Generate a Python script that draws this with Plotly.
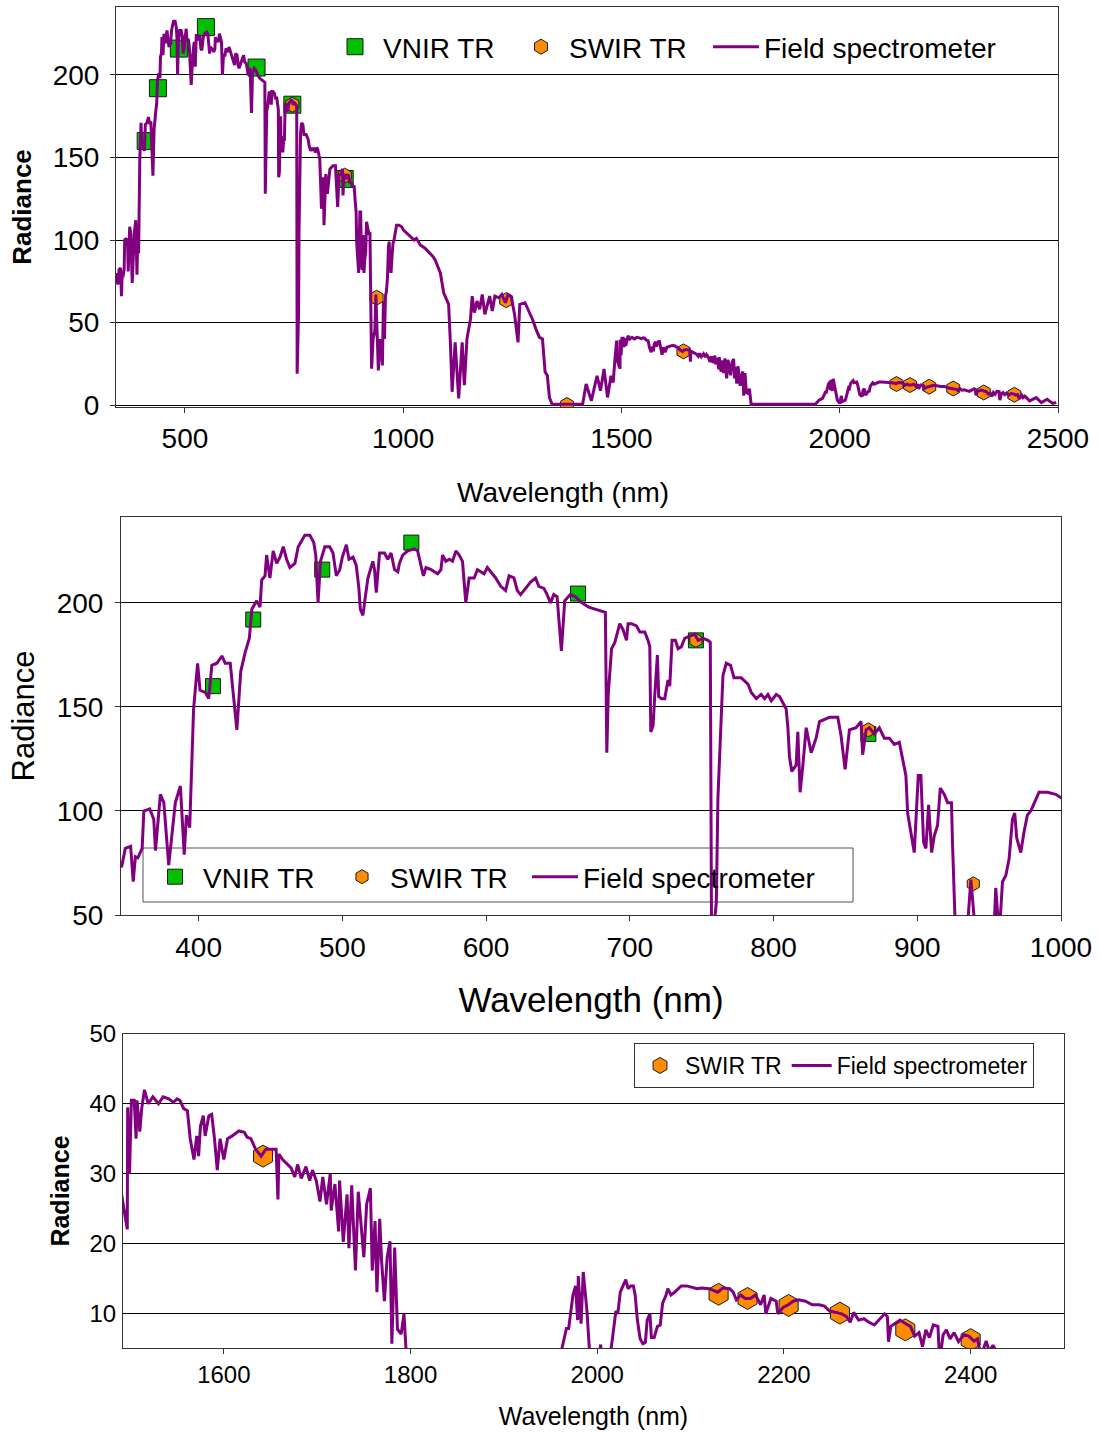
import plotly.graph_objects as go

# ---------------- data ----------------
wavelength = [
    342, 346.4, 349, 352.7, 354.5, 356, 357.7, 360.7, 361.9, 366, 368.8, 370, 373.4, 375.8, 379.2,
    383.8, 387.3, 390, 391.5, 393.8, 396.5, 399.3, 401, 404.6, 407, 409.2, 412.7, 416.2, 418.5,
    422, 426.6, 429.3, 432.3, 435.3, 437, 440.4, 442.7, 443.9, 446.2, 447.3, 449.6, 451.9, 454.3,
    456.6, 458.9, 461.2, 463.5, 467, 469.3, 472.3, 473.9, 477.4, 480.1, 481.5, 483.1, 484.8,
    487.8, 491.2, 493.5, 495.8, 498.2, 500, 502.8, 504.6, 507.4, 509.7, 511.5, 512.5, 514.3,
    516.2, 517.8, 521.2, 522.4, 523.6, 525.9, 529.3, 531.6, 533.9, 536.3, 538.6, 539.7, 542,
    545.5, 550.1, 552.4, 554.7, 556.4, 558.2, 561.7, 566.3, 568.6, 569.7, 572, 574.4, 576.7,
    579, 581.3, 583.6, 585.9, 588.2, 591.7, 594, 598.6, 600.9, 604.4, 606.7, 610.2, 613.6, 616,
    619.4, 621.7, 624, 627.5, 631, 634.4, 636.7, 640.2, 642.5, 644.8, 647.1, 649.4, 652.4,
    654.7, 658.6, 662.1, 666.7, 671.4, 676, 680.6, 683, 684, 685, 687.3, 689.6, 693, 695.4,
    697.7, 698.8, 701.2, 704.6, 707, 710.4, 712.7, 713.9, 714.6, 716.2, 717.4, 719.2, 720.1,
    722, 724.3, 726.6, 727.8, 729.4, 731.7, 733.6, 735.9, 738.2, 741.7, 745.1, 747.5, 750.9,
    754.4, 756, 757, 758.6, 760.2, 761.3, 764.8, 767.1, 770.1, 772.5, 777.5, 782.2, 784.5, 788,
    791.4, 793.8, 796.1, 798.4, 801.9, 804.2, 806.5, 808.8, 810, 811.1, 812.7, 815.7, 816.9,
    818.5, 820.4, 822.7, 826.2, 829.6, 832, 835.4, 838.9, 844.7, 847, 849.8, 852.8, 857.4,
    860.9, 862, 864.4, 866.7, 870.1, 873.6, 877.1, 880.6, 884, 887.5, 889.8, 892.1, 893.3,
    897.9, 900.7, 902.5, 904.4, 906, 907.9, 910, 911.8, 914.1, 916, 918.8, 921.1, 923.8, 924.5,
    927.5, 931, 935, 937.3, 939.6, 943, 947, 950, 952.3, 954.6, 957, 959.3, 961.6, 963.9,
    966.2, 967.8, 969.2, 972, 974.3, 976.6, 979, 981.7, 984.7, 990.5, 996.3, 1000.7, 1016,
    1025, 1030, 1039, 1050, 1062, 1068, 1073, 1085, 1092.7, 1104, 1108, 1112, 1119, 1127, 1135,
    1140, 1146, 1154, 1158, 1163, 1169, 1175, 1181, 1187, 1192, 1198, 1204, 1210, 1219, 1226,
    1234, 1240, 1247, 1255, 1263, 1267, 1279,
    1288, 1296, 1304, 1312, 1319, 1322, 1325, 1330, 1335, 1341, 1370, 1411, 1419, 1431, 1444,
    1452, 1460, 1468, 1476, 1481, 1485, 1489, 1490.5, 1496.6, 1497, 1499, 1501, 1504, 1506,
    1507, 1510, 1512, 1515, 1519, 1524, 1530, 1535, 1541, 1546, 1550, 1553, 1557, 1561, 1564,
    1568, 1571, 1573, 1575, 1578, 1580, 1584, 1587, 1590, 1593, 1596, 1600, 1604, 1609, 1616,
    1622, 1625, 1629, 1634, 1640, 1645, 1652, 1656, 1658, 1659, 1663, 1667, 1672, 1676, 1679,
    1683, 1688, 1692, 1695, 1699, 1703, 1706, 1710, 1714, 1715, 1719, 1723, 1724, 1728, 1732,
    1734, 1737, 1741, 1744, 1748, 1750, 1753, 1757, 1759, 1762, 1764, 1767, 1769, 1772, 1775,
    1778, 1780, 1783, 1786, 1790, 1793, 1797, 1944, 1953, 1960.6, 1965, 1967, 1969.4, 1971.6,
    1974, 1976.8, 1979, 1979.7, 1982.7, 1985, 1989, 1991.5, 1994.5, 2000, 2003.7, 2005.5, 2013,
    2016.6, 2020, 2022, 2024.7, 2027.6, 2030.6, 2033, 2035.8, 2038.7, 2040.6, 2043, 2046, 2049,
    2051.6, 2053.5, 2056.4, 2058, 2061, 2064.5, 2067.5, 2070, 2073.7, 2075.6, 2079, 2083,
    2086.6, 2090, 2095.8, 2101.4, 2107, 2112, 2120, 2129, 2134.6, 2142, 2145.6, 2149, 2153.7,
    2158.5, 2164, 2169.6, 2175, 2178.8, 2180.6, 2186, 2191.7, 2193.5, 2199, 2204.6, 2210,
    2215.7, 2223, 2230.4, 2237.8, 2243.3, 2249, 2256, 2261.8, 2267, 2271, 2274.7, 2280, 2285.7,
    2291, 2296.8, 2302, 2307.8, 2310.8, 2312, 2314.5, 2319, 2324.4, 2330, 2335.5, 2340, 2344.7,
    2348.4, 2352, 2355.8, 2360, 2365, 2366.8, 2370.5, 2374, 2378, 2382.3, 2387, 2392.6, 2398,
    2403.7, 2407.4, 2411, 2416.6, 2420, 2424, 2435, 2450, 2462, 2475, 2488, 2496,
]
radiance = [
    80, 73, 82, 83, 66, 78, 77.5, 82, 100, 101, 96, 81, 108, 104, 74,
    104, 112, 79, 98, 92, 149, 171, 158, 157, 154, 170, 171, 174.5, 171,
    171, 139, 167, 176, 183, 197, 201, 198, 211, 213, 223, 212, 225, 219,
    222, 227, 221, 217, 219, 227, 231, 232.5, 232.5, 229, 223, 200, 220,
    227, 227, 224, 213, 216, 222, 228, 221, 222, 218, 207, 197, 194,
    204, 212, 220, 216, 205, 224, 224, 221, 224, 216, 215, 219, 223,
    225, 226, 225, 218, 213, 217, 216, 214, 216, 223, 220, 221, 220,
    225, 223, 220, 200, 212, 212, 216, 214, 217, 214, 212, 208, 206, 213,
    212, 206, 204, 207, 210, 212, 208, 207, 204, 200, 204, 203, 177,
    201, 204, 203, 200, 198, 197, 196, 195.5, 128, 156, 178, 181, 190, 187,
    182, 190, 190, 189, 186, 186, 182, 179, 138, 141, 156, 175, 155,
    154, 154, 163, 160, 182, 182, 178, 179, 183, 184, 185, 182, 183,
    182, 181, 19, 45, 56, 106, 165, 171, 170, 164, 164, 161, 157, 154,
    156, 154, 156, 153, 156, 155, 152, 149, 140, 126, 119, 122, 138,
    109, 122, 140, 128, 135, 143, 144, 145, 145, 136, 120, 139, 140,
    143, 127, 139, 140, 137, 140, 135, 135, 132, 133, 124, 117, 99,
    80, 117, 117, 85, 82, 103, 80, 88, 93, 111, 108, 104, 104, 85,
    22, 40, 45, 67, 45, 21, 40, 35, 24, 63, 40, 66, 69, 77,
    96, 99, 87, 80, 90, 98, 100, 104, 109, 109, 108, 106, 102,
    100, 101, 97, 95, 92, 90, 88, 80, 68, 61, 38, 8, 38, 4, 38,
    12, 40, 52, 66, 56, 63, 58, 67, 55, 60, 66, 57, 66, 65, 67,
    62, 67, 66, 55, 38, 61, 62,
    57, 52, 46, 41, 40, 32, 20, 18, 4.6, 0.5, 0.5, 0.5, 12.7, 2.6, 17.7,
    8.7, 21.8, 4.6, 17.7, 13.7, 27.8, 39, 27, 22, 39.5, 30, 40.5, 40.5, 35,
    40.5, 36, 39.3, 42, 40, 41, 40, 41, 40.7, 40.2, 40.7, 40.5, 39.3, 39, 35,
    32, 35.4, 32.5, 36.8, 38.3, 35.4, 38.3, 38.5, 35, 30.5, 35, 32, 35, 35.4, 36.1,
    35.9, 35.2, 35, 33.5, 32.5, 33.5, 33.5, 33.5, 26.3, 32.8, 32, 31.5, 30.8, 29.5, 31.3,
    29.3, 31, 29, 30.5, 29, 26, 29.5, 25.6, 30, 24.7, 28.5, 21.7, 29, 20.2, 27,
    19.3, 28.3, 16.1, 27.4, 21.7, 18, 25.6, 27.9, 16.1, 23.2, 13, 23.5, 17.5, 11.7, 18,
    20.3, 5.6, 19.4, 7.7, 7, 9.9, 0.5, 0.5, 3, 4, 6.7, 7.8, 7.8, 10.3,
    12.6, 13.9, 9, 15.3, 8.5, 15.9, 10.3, 5, 3, 1, 5.5, 2, 3,
    6.7, 10.3, 9.9, 13, 13.9, 14.8, 13.5, 13.9, 13.9, 12.6, 9, 6.3, 5.6,
    5.8, 9, 9.9, 6.5, 6.5, 8.1, 8.3, 11.4, 12.6, 13.5, 12.6, 13,
    13.5, 13.9, 13.9, 13.7, 13.5, 13.6, 13.5, 13, 13.6, 13.5, 13, 11.9, 12.6,
    12.1, 12.1, 12.6, 11.2, 12.6, 9.9, 12.1, 11.7, 9.9, 10.8, 11.2, 11.7,
    11.9, 11.7, 11.2, 11.2, 11, 10.3, 10.1, 9.9, 9.5, 8.7, 10.1, 9, 9.2,
    8.7, 8.3, 9, 9.9, 9.5, 5.9, 8.1, 8.5, 9, 8.5, 8.1, 6.7, 7.2,
    5.2, 7.6, 6.5, 8.3, 8.1, 3, 6.9, 7.6, 6.3, 7.2, 5.9, 6.9, 6.7,
    6, 6.3, 3.8, 6, 4.5, 5.4, 2.5, 4.5, 1.5, 3.5, 1, 1.5,
]

vnir_wl = [410, 438, 486, 548, 664, 746, 866]
vnir_rad = [160, 192, 216, 229, 204.5, 182, 137]

swir_wl = [746, 866, 939, 1236, 1375, 1642, 2130, 2161, 2205, 2260, 2330, 2400]
swir_rad = [182, 139, 65, 63.5, 0, 32.5, 12.7, 12.1, 11.1, 10.0, 7.6, 6.2]

# ---------------- styles ----------------
FONT = "Liberation Sans, Arial, sans-serif"
PURPLE = "#800080"
GREEN = "#00c000"
ORANGE = "#ff8c00"
W, H = 1099, 1432


def px_x(a, b):
    return [a / W, b / W]


def px_y(top, bottom):
    return [1 - bottom / H, 1 - top / H]


fig = go.Figure()

# each panel: axis suffix, legend ids for (VNIR, SWIR, Field), marker sizes, line width
panels = [
    dict(ax="", legs=("legend", "legend2", "legend3"), sq=17, hx=15, lw=3),
    dict(ax="2", legs=("legend4", "legend5", "legend6"), sq=15, hx=14, lw=3),
    dict(ax="3", legs=(None, "legend7", "legend7"), sq=14, hx=22, lw=3),
]

for p in panels:
    xa = "x" + p["ax"]
    ya = "y" + p["ax"]
    lv, ls, lf = p["legs"]
    if lv is not None:
        fig.add_trace(go.Scatter(
            x=vnir_wl, y=vnir_rad, mode="markers", name="VNIR TR",
            xaxis=xa, yaxis=ya, legend=lv,
            marker=dict(symbol="square", size=p["sq"], color=GREEN,
                        line=dict(color="#1a1a1a", width=1)),
        ))
    fig.add_trace(go.Scatter(
        x=swir_wl, y=swir_rad, mode="markers", name="SWIR TR",
        xaxis=xa, yaxis=ya, legend=ls,
        marker=dict(symbol="hexagon", size=p["hx"], color=ORANGE,
                    line=dict(color="#1a1a1a", width=1)),
    ))
    fig.add_trace(go.Scatter(
        x=wavelength, y=radiance, mode="lines", name="Field spectrometer",
        xaxis=xa, yaxis=ya, legend=lf,
        line=dict(color=PURPLE, width=p["lw"]),
    ))

common = dict(showline=True, mirror=True, linecolor="#333333", linewidth=1,
              ticks="outside", ticklen=5, tickcolor="#333333", zeroline=False,
              color="black", automargin=False)


def leg(xpx, ypx, size, **kw):
    d = dict(orientation="h", x=xpx / W, y=1 - ypx / H, xanchor="left", yanchor="middle",
             font=dict(size=size), bgcolor="rgba(0,0,0,0)", borderwidth=0, itemwidth=46)
    d.update(kw)
    return d


layout = dict(
    width=W, height=H,
    margin=dict(l=0, r=0, t=0, b=0, autoexpand=False),
    paper_bgcolor="white", plot_bgcolor="white",
    font=dict(family=FONT, color="black"),
    showlegend=True,
    # panel 1
    xaxis=dict(domain=px_x(116, 1058), anchor="y", range=[342, 2500],
               tickvals=[500, 1000, 1500, 2000, 2500], showgrid=False,
               tickfont=dict(size=28), ticklabelstandoff=1,
               **common),
    yaxis=dict(domain=px_y(7, 407), anchor="x", range=[-1.2, 241.2],
               tickvals=[0, 50, 100, 150, 200], showgrid=True,
               gridcolor="#000000", gridwidth=1,
               tickfont=dict(size=28), ticklabelstandoff=5,
               title=dict(text="Radiance", font=dict(size=26, weight="bold"), standoff=13),
               **common),
    # panel 2
    xaxis2=dict(domain=px_x(121, 1061), anchor="y2", range=[346, 1000],
                tickvals=[400, 500, 600, 700, 800, 900, 1000], showgrid=False,
                tickfont=dict(size=28), ticklabelstandoff=2,
                title=dict(text="Wavelength (nm)", font=dict(size=35), standoff=25),
                **common),
    yaxis2=dict(domain=px_y(517, 915), anchor="x2", range=[50, 241.3],
                tickvals=[50, 100, 150, 200], showgrid=True,
                gridcolor="#000000", gridwidth=1,
                tickfont=dict(size=28), ticklabelstandoff=6,
                title=dict(text="Radiance", font=dict(size=31), standoff=12),
                **common),
    # panel 3
    xaxis3=dict(domain=px_x(123, 1064), anchor="y3", range=[1492, 2500],
                tickvals=[1600, 1800, 2000, 2200, 2400], showgrid=False,
                tickfont=dict(size=24), ticklabelstandoff=0,
                title=dict(text="Wavelength (nm)", font=dict(size=25), standoff=20),
                **common),
    yaxis3=dict(domain=px_y(1034, 1348), anchor="x3", range=[5, 50],
                tickvals=[10, 20, 30, 40, 50], showgrid=True,
                gridcolor="#000000", gridwidth=1,
                tickfont=dict(size=24), ticklabelstandoff=1,
                title=dict(text="Radiance", font=dict(size=25, weight="bold"), standoff=12),
                **{**common, "ticklen": 0}),
    # panel 1 legend items
    legend=leg(355 - 28, 47, 28),
    legend2=leg(541 - 28, 47, 28),
    legend3=leg(736 - 28, 47, 28),
    # panel 2 legend items
    legend4=leg(175 - 28, 877, 28),
    legend5=leg(362 - 28, 877, 28),
    legend6=leg(555 - 28, 877, 28),
    # panel 3 legend
    legend7=dict(orientation="h", x=634 / W, y=1 - 1043 / H, xanchor="left", yanchor="top",
                 font=dict(size=23), bgcolor="white", bordercolor="#333333", borderwidth=1,
                 itemwidth=40),
    shapes=[
        dict(type="rect", xref="paper", yref="paper",
             x0=143 / W, x1=853 / W, y0=1 - 902 / H, y1=1 - 848 / H,
             line=dict(color="#555555", width=1), fillcolor="white", layer="between"),
    ],
    annotations=[
        dict(text="Wavelength (nm)", xref="paper", yref="paper",
             x=563 / W, y=1 - 493 / H, xanchor="center", yanchor="middle",
             showarrow=False, font=dict(size=28)),
    ],
)
fig.update_layout(**layout)

fig.write_html("out.html")
